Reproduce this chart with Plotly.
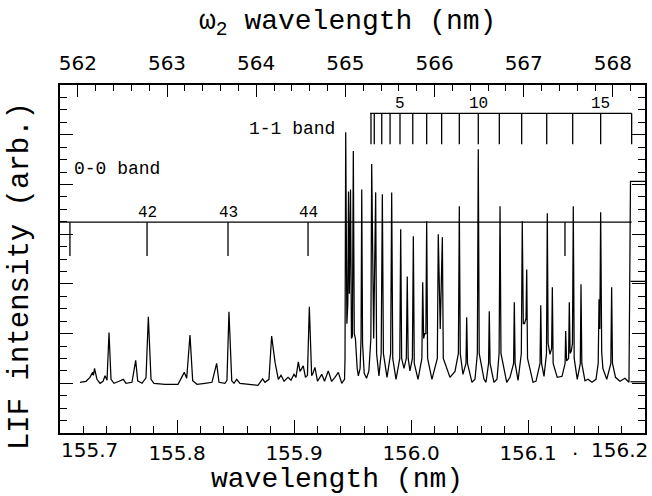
import plotly.graph_objects as go

# ---------------- data ----------------
# 0-0 band region of the LIF spectrum (VUV wavelength in nm, intensity in arb. units)
wl_00 = [155.7171, 155.7222, 155.7256, 155.7279, 155.7286, 155.7295, 155.7316, 155.7342, 155.7368, 155.7385,
         155.7402, 155.7419, 155.7436, 155.7462, 155.7504, 155.7541, 155.7564, 155.7615, 155.7647, 155.7664,
         155.7701, 155.7735, 155.7755, 155.7778, 155.7803, 155.7897, 155.8009, 155.8049, 155.8062, 155.8083,
         155.8111, 155.8134, 155.8171, 155.8239, 155.8299, 155.8339, 155.8359, 155.8410, 155.8427, 155.8444,
         155.8468, 155.8487, 155.8510, 155.8538, 155.8624, 155.8692, 155.8732, 155.8752, 155.8786, 155.8809,
         155.8838, 155.8866, 155.8889, 155.8915, 155.8949, 155.8974, 155.9000, 155.9017, 155.9037, 155.9051,
         155.9079, 155.9098, 155.9115, 155.9131, 155.9151, 155.9162, 155.9179, 155.9201, 155.9237, 155.9261,
         155.9293, 155.9321, 155.9350, 155.9379, 155.9408, 155.9432]
lif_00 = [0.02, 0.04, 0.12, 0.22, 0.16, 0.30, 0.08, 0.00, 0.04, 0.15,
          0.06, 1.02, 0.08, 0.00, 0.04, 0.08, 0.00, 0.02, 0.46, 0.05,
          0.00, 0.11, 1.34, 0.08, 0.00, -0.02, -0.02, 0.15, 0.22, 0.10,
          0.97, 0.05, -0.02, 0.00, 0.02, 0.40, 0.02, 0.00, 0.06, 1.44,
          0.05, 0.00, 0.08, 0.00, -0.02, -0.04, 0.09, 0.02, 0.08, 0.95,
          0.42, 0.08, 0.16, 0.04, 0.12, 0.06, 0.18, 0.12, 0.43, 0.24,
          0.35, 0.12, 0.16, 1.54, 0.15, 0.20, 0.32, 0.04, 0.18, 0.04,
          0.25, 0.04, 0.12, 0.22, 0.00, 0.08]

# 1-1 band region
wl_11 = [155.9436, 155.9442, 155.9452, 155.9460, 155.9466, 155.9473, 155.9483, 155.9491, 155.9499, 155.9507,
         155.9515, 155.9525, 155.9540, 155.9550, 155.9565, 155.9573, 155.9579, 155.9586, 155.9600, 155.9620,
         155.9640, 155.9657, 155.9664, 155.9681, 155.9698, 155.9706, 155.9726, 155.9745, 155.9755, 155.9764,
         155.9795, 155.9826, 155.9835, 155.9844, 155.9872, 155.9904, 155.9912, 155.9920, 155.9940, 155.9960,
         155.9968, 155.9976, 155.9991, 156.0012, 156.0020, 156.0028, 156.0060, 156.0093, 156.0100, 156.0108,
         156.0117, 156.0127, 156.0134, 156.0142, 156.0179, 156.0225, 156.0233, 156.0250, 156.0268, 156.0276,
         156.0333, 156.0376, 156.0405, 156.0413, 156.0421, 156.0444, 156.0470, 156.0476, 156.0483, 156.0521,
         156.0547, 156.0567, 156.0575, 156.0583, 156.0624, 156.0641, 156.0663, 156.0669, 156.0676, 156.0709,
         156.0735, 156.0753, 156.0761, 156.0769, 156.0818, 156.0846, 156.0877, 156.0883, 156.0890, 156.0915,
         156.0943, 156.0951, 156.0960, 156.0970, 156.0983, 156.0989, 156.0996, 156.1043, 156.1068, 156.1103,
         156.1109, 156.1116, 156.1137, 156.1158, 156.1165, 156.1172, 156.1188, 156.1202, 156.1208, 156.1215,
         156.1250, 156.1291, 156.1317, 156.1322, 156.1330, 156.1347, 156.1353, 156.1360, 156.1370, 156.1380,
         156.1387, 156.1395, 156.1421, 156.1447, 156.1453, 156.1460, 156.1487, 156.1513, 156.1547, 156.1581,
         156.1600, 156.1607, 156.1614, 156.1621, 156.1630, 156.1640, 156.1673, 156.1708, 156.1715, 156.1722,
         156.1748, 156.1786, 156.1829, 156.1863, 156.1876, 156.2000]
lif_11 = [0.50, 5.05, 1.20, 1.60, 3.86, 1.80, 3.90, 0.90, 0.95, 4.67,
          1.00, 0.90, 0.30, 0.15, 0.30, 0.90, 3.90, 0.80, 0.20, 0.10,
          0.25, 0.90, 4.41, 0.90, 3.84, 0.60, 0.15, 0.60, 3.80, 0.60,
          0.12, 0.60, 3.84, 0.50, 0.08, 0.50, 3.10, 0.50, 0.30, 0.50,
          2.15, 0.50, 0.25, 0.50, 2.96, 0.40, 0.08, 0.50, 2.03, 0.90,
          1.00, 1.00, 3.26, 0.50, 0.08, 0.50, 3.00, 1.09, 2.94, 0.50,
          0.12, 0.24, 0.60, 3.56, 0.60, 0.18, 0.40, 1.33, 0.40, 0.02,
          0.08, 0.60, 4.71, 0.60, 0.08, 0.02, 0.40, 1.45, 0.40, 0.02,
          0.08, 0.60, 3.56, 0.60, 0.02, 0.12, 0.40, 1.63, 0.40, 0.06,
          0.60, 3.26, 1.20, 1.20, 1.30, 2.29, 0.50, 0.02, 0.04, 0.40,
          1.57, 0.40, 0.14, 0.60, 3.42, 0.80, 0.58, 0.70, 1.93, 0.40,
          0.12, 0.14, 0.40, 1.05, 0.45, 0.50, 1.63, 0.60, 0.65, 0.80,
          3.56, 0.50, 0.08, 0.40, 1.99, 0.40, 0.05, 0.08, 0.02, 0.08,
          0.40, 1.69, 1.09, 3.44, 0.62, 0.30, 0.08, 0.40, 1.93, 0.40,
          0.12, 0.04, 0.10, 0.02, 4.06, 4.06]

# box-like feature at the right edge
edge_wl = [156.1876, 156.2000, None, 156.1876, 156.2000]
edge_lif = [2.05, 2.05, None, 0.03, 0.03]

# rotational line assignments
band00_wl = [155.7085, 155.7744, 155.8436, 155.9120, 156.1316]
band00_labels = ["", "42", "43", "44", ""]
band11_wl = [155.9658, 155.9686, 155.9750, 155.9821, 155.9906, 156.0015, 156.0134, 156.0262,
             156.0413, 156.0575, 156.0755, 156.0946, 156.1160, 156.1382, 156.1621, 156.1886]
band11_labels = ["", "", "", "", "5", "", "", "", "", "10", "", "", "", "", "15", ""]
BAND00_LEVEL, BAND00_TICK_END = 3.24, 2.56
BAND11_LEVEL, BAND11_TICK_END = 5.43, 4.81

# axis ticks
bottom_ticks = [155.7, 155.8, 155.9, 156.0, 156.1, 156.2]
bottom_text = ["", "155.8", "155.9", "156.0", "156.1", ""]
top_ticks = [562, 563, 564, 565, 566, 567, 568]
top_text = ["562", "563", "564", "565", "566", "567", "568"]

# ---------------- figure ----------------
MONO = "Liberation Mono"
TICKFONT = dict(family="DejaVu Sans", size=20, color="black")

fig = go.Figure()
fig.add_trace(go.Scatter(x=wl_00 + wl_11, y=lif_00 + lif_11, mode="lines",
                         line=dict(color="black", width=1.25), hoverinfo="skip"))
fig.add_trace(go.Scatter(x=edge_wl, y=edge_lif, mode="lines",
                         line=dict(color="black", width=1.25), hoverinfo="skip"))
# invisible trace so the top (omega_2) axis exists
fig.add_trace(go.Scatter(x=[561.8, 568.36], y=[-9, -9], mode="lines", xaxis="x2",
                         line=dict(color="rgba(0,0,0,0)"), hoverinfo="skip"))

shapes = []
lw = 1.3
shapes.append(dict(type="line", xref="x", yref="y", x0=155.7, x1=band11_wl[-1],
                   y0=BAND00_LEVEL, y1=BAND00_LEVEL, line=dict(color="black", width=lw)))
for w in band00_wl:
    shapes.append(dict(type="line", xref="x", yref="y", x0=w, x1=w,
                       y0=BAND00_LEVEL, y1=BAND00_TICK_END, line=dict(color="black", width=lw)))
shapes.append(dict(type="line", xref="x", yref="y", x0=155.9650, x1=band11_wl[-1],
                   y0=BAND11_LEVEL, y1=BAND11_LEVEL, line=dict(color="black", width=lw)))
for w in band11_wl:
    shapes.append(dict(type="line", xref="x", yref="y", x0=w, x1=w,
                       y0=BAND11_LEVEL, y1=BAND11_TICK_END, line=dict(color="black", width=lw)))

annotations = []
for w, t in zip(band00_wl, band00_labels):
    if t:
        annotations.append(dict(x=w, y=BAND00_LEVEL, xref="x", yref="y", text=t, showarrow=False,
                                yanchor="bottom", yshift=-2, font=dict(family=MONO, size=16, color="black")))
for w, t in zip(band11_wl, band11_labels):
    if t:
        annotations.append(dict(x=w, y=BAND11_LEVEL, xref="x", yref="y", text=t, showarrow=False,
                                yanchor="bottom", yshift=-2, font=dict(family=MONO, size=16, color="black")))

annotations += [
    dict(x=155.7103, y=4.32, xref="x", yref="y", text="0-0 band", showarrow=False,
         xanchor="left", yanchor="middle", font=dict(family=MONO, size=18, color="black")),
    dict(x=155.8987, y=5.12, xref="x", yref="y", text="1-1 band", showarrow=False,
         xanchor="center", yanchor="middle", font=dict(family=MONO, size=18, color="black")),
    dict(x=155.7256, y=-0.05, xref="x", yref="paper", text="155.7", showarrow=False,
         yanchor="middle", font=TICKFONT),
    dict(x=156.1778, y=-0.05, xref="x", yref="paper", text="156.2", showarrow=False,
         yanchor="middle", font=TICKFONT),
    dict(x=156.1402, y=-0.042, xref="x", yref="paper", text=".", showarrow=False,
         yanchor="middle", font=TICKFONT),
    dict(x=0.4735, y=-0.135, xref="paper", yref="paper", text="wavelength (nm)", showarrow=False,
         xanchor="center", yanchor="middle", font=dict(family=MONO, size=28, color="black")),
    dict(x=0.4906, y=1.176, xref="paper", yref="paper", text="\u03c9<sub>2</sub> wavelength (nm)",
         showarrow=False, xanchor="center", yanchor="middle",
         font=dict(family=MONO, size=28, color="black")),
    dict(x=-0.0684, y=0.451, xref="paper", yref="paper", text="LIF intensity (arb.)", showarrow=False,
         textangle=-90, xanchor="center", yanchor="middle",
         font=dict(family=MONO, size=29, color="black")),
]

fig.update_layout(
    width=652, height=496,
    margin=dict(l=60, r=7, t=85, b=63, autoexpand=False),
    paper_bgcolor="white", plot_bgcolor="white",
    showlegend=False,
    shapes=shapes, annotations=annotations,
    xaxis=dict(range=[155.7, 156.2], tickmode="array", tickvals=bottom_ticks, ticktext=bottom_text,
               ticks="inside", ticklen=13, tickwidth=1.3, tickcolor="black",
               showline=True, linecolor="black", linewidth=1.5, mirror=False,
               showgrid=False, zeroline=False, tickfont=TICKFONT, ticklabelstandoff=1,
               minor=dict(dtick=0.02, tick0=155.7, ticks="inside", ticklen=7, tickwidth=1.2,
                          tickcolor="black", showgrid=False)),
    xaxis2=dict(overlaying="x", side="top", anchor="y", range=[561.80, 568.36],
                tickmode="array", tickvals=top_ticks, ticktext=top_text,
                ticks="inside", ticklen=12, tickwidth=1.3, tickcolor="black",
                showline=True, linecolor="black", linewidth=1.5,
                showgrid=False, zeroline=False, tickfont=TICKFONT, ticklabelstandoff=5,
                minor=dict(dtick=0.2, tick0=562, ticks="inside", ticklen=6, tickwidth=1.2,
                           tickcolor="black", showgrid=False)),
    yaxis=dict(range=[-1, 6], tick0=0, dtick=1, ticks="inside", ticklen=13, tickwidth=1.3,
               tickcolor="black", showticklabels=False, showline=True, linecolor="black",
               linewidth=1.5, mirror="ticks", showgrid=False, zeroline=False,
               minor=dict(dtick=0.25, ticks="inside", ticklen=7, tickwidth=1.2,
                          tickcolor="black", showgrid=False)),
)

fig.write_html("out.html", config={"displayModeBar": False},
               post_script="document.body.style.margin='0';")
